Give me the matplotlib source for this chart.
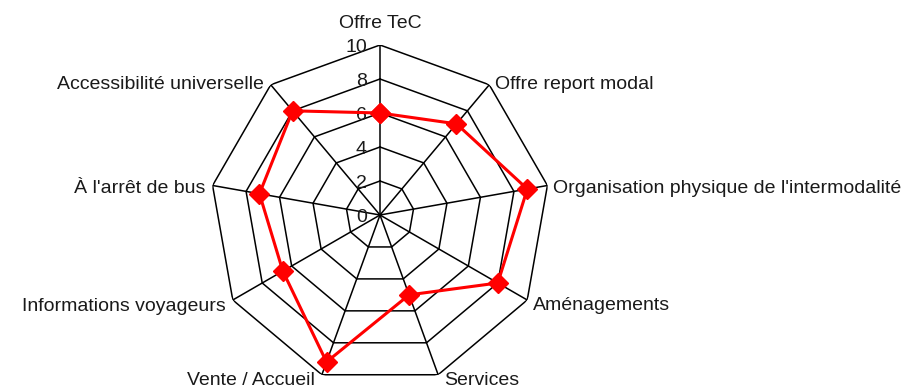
import numpy as np
import matplotlib
matplotlib.use("Agg")
import matplotlib.pyplot as plt

plt.rcParams['font.family'] = ['Liberation Sans', 'DejaVu Sans']

# Données du radar
categories = ["Offre TeC", "Offre report modal", "Organisation physique de l'intermodalité",
              "Aménagements", "Services", "Vente / Accueil", "Informations voyageurs",
              "À l'arrêt de bus", "Accessibilité universelle"]
valeurs = [6, 7, 8.8, 8, 5, 9.2, 6.6, 7.2, 8]
graduations = [0, 2, 4, 6, 8, 10]

n = len(categories)
angles = np.arange(n) * 2 * np.pi / n
angles_fermes = np.append(angles, angles[0])

W, H = 909, 388
fig = plt.figure(figsize=(W / 100, H / 100), dpi=100)
cx, cy, R = 380, 215, 170
ax = fig.add_axes([(cx - R) / W, (H - cy - R) / H, 2 * R / W, 2 * R / H], projection='polar')
ax.set_theta_zero_location('N')
ax.set_theta_direction(-1)
ax.set_ylim(0, 10)
ax.grid(False)
ax.spines['polar'].set_visible(False)
ax.set_xticks([])
ax.set_yticks([])
ax.patch.set_visible(False)

# Grille polygonale
for g in graduations[1:]:
    ax.plot(angles_fermes, [g] * (n + 1), color='black', lw=1.1, zorder=1)
for a in angles:
    ax.plot([a, a], [0, 10], color='black', lw=1.1, zorder=1)

# Graduations
for g in graduations:
    ax.annotate(str(g), xy=(0, g), xytext=(-13, -7.5), textcoords='offset pixels',
                ha='right', va='baseline', fontsize=14, color='#1a1a1a')

# Série
vf = valeurs + [valeurs[0]]
ax.plot(angles_fermes, vf, color='red', lw=2.2, marker='D', ms=10, zorder=3)

# Libellés
for a, lab in zip(angles, categories):
    s, c = np.sin(a), np.cos(a)
    dy = max(-8.5 + 5.5 * c, -10.5)
    if abs(s) < 0.05:
        ha, dx, dy = 'center', 0, 17
    elif s > 0:
        ha, dx = 'left', 6
    else:
        ha, dx = 'right', -7
    ax.annotate(lab, xy=(a, 10), xytext=(dx, dy), textcoords='offset pixels',
                ha=ha, va='baseline', fontsize=14, color='#1a1a1a', annotation_clip=False)

fig.savefig('out.png', dpi=100)
